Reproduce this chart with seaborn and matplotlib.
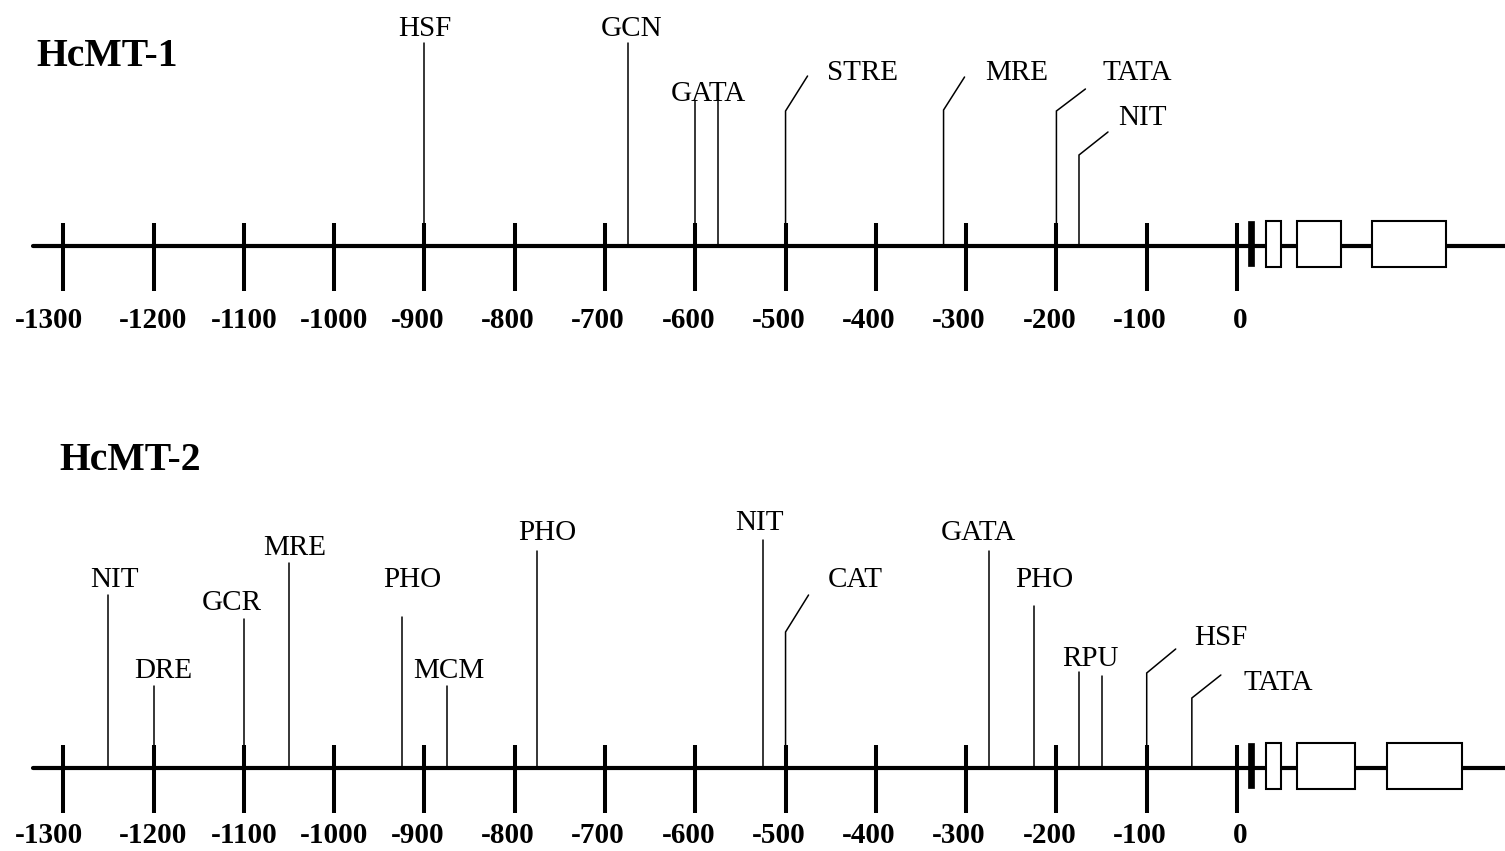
import matplotlib
matplotlib.use("Agg")
import matplotlib.pyplot as plt
import matplotlib.transforms as mtransforms
from matplotlib.patches import Rectangle
import pandas as pd
import seaborn as sns

# ---------------- data ----------------
tick_positions = [-1300, -1200, -1100, -1000, -900, -800, -700, -600,
                  -500, -400, -300, -200, -100, 0]
tick_labels = ["-1300", "-1200", "-1100", "-1000", "-900", "-800", "-700",
               "-600", "-500", "-400", "-300", "-200", "-100", "0"]

construct_names = ["HcMT-1", "HcMT-2"]

hcmt1_names = ["HSF", "GCN", "GATA", "GATA", "STRE", "MRE", "TATA", "NIT"]
hcmt1_pos = [-900, -675, -600, -575, -500, -325, -200, -175]
hcmt1_exon_start = [32, 66, 149]
hcmt1_exon_end = [49, 115, 232]

hcmt2_names = ["NIT", "DRE", "GCR", "MRE", "PHO", "MCM", "PHO", "NIT",
               "CAT", "GATA", "PHO", "RPU", "RPU", "HSF", "TATA"]
hcmt2_pos = [-1250, -1200, -1100, -1050, -925, -875, -775, -525,
             -500, -275, -225, -175, -150, -100, -50]
hcmt2_exon_start = [32, 66, 166]
hcmt2_exon_end = [49, 131, 249]

start_codon = [12, 19]   # filled black block after position 0

# ---------------- layout (pixels above the backbone) ----------------
# stem height, bend (dx px, end height) or None, label dx px, label centre height, show label
hcmt1_layout = [
    (203, None, 0, 220, True),
    (203, None, 4, 220, True),
    (145, None, 13, 155, True),
    (145, None, 0, 155, False),
    (135, (22, 170), 77, 176, True),
    (136, (21, 169), 73, 176, True),
    (135, (29, 157), 81, 176, True),
    (91, (29, 114), 63, 131, True),
]
hcmt2_layout = [
    (173, None, 6, 191, True),
    (82, None, 10, 100, True),
    (149, None, -12, 168, True),
    (205, None, 6, 223, True),
    (151, None, 10, 191, True),
    (82, None, 2, 100, True),
    (217, None, 10, 238, True),
    (228, None, -4, 248, True),
    (136, (23, 173), 70, 191, True),
    (217, None, -10, 238, True),
    (162, None, 10, 191, True),
    (96, None, 11, 112, True),
    (92, None, 0, 112, False),
    (95, (29, 119), 74, 133, True),
    (70, (29, 93), 86, 88, True),
]

W, H = 1505, 851
baselines = [246, 768]
title_left = [36, 59]
title_center = [52, 457]
px_per_bp = 0.9029
x_left = -1237 / px_per_bp
x_right = x_left + W / px_per_bp
bp_per_px = 1 / px_per_bp
backbone_start = -1333

sns.set_theme(style="white")
plt.rcParams["font.family"] = ["Liberation Serif", "DejaVu Serif"]

fig = plt.figure(figsize=(W / 100, H / 100), dpi=100)
ax = fig.add_axes([0, 0, 1, 1])

# backbone lines via seaborn
bb = pd.DataFrame({
    "x": [backbone_start, x_right + 10, backbone_start, x_right + 10],
    "y": [baselines[0], baselines[0], baselines[1], baselines[1]],
    "construct": [construct_names[0]] * 2 + [construct_names[1]] * 2,
})
sns.lineplot(data=bb, x="x", y="y", units="construct", estimator=None,
             color="black", lw=3.0, ax=ax, legend=False, zorder=2)
ax.set_xlim(x_left, x_right)
ax.set_ylim(H, 0)
ax.axis("off")

half_cap_feat = 9.8
feat_size = 21
tick_size = 21
title_size = 28.5

blend = mtransforms.blended_transform_factory(ax.transAxes, ax.transData)

constructs = [
    (hcmt1_names, hcmt1_pos, hcmt1_layout, hcmt1_exon_start, hcmt1_exon_end),
    (hcmt2_names, hcmt2_pos, hcmt2_layout, hcmt2_exon_start, hcmt2_exon_end),
]

for ci, (names, pos, layout, es, ee) in enumerate(constructs):
    base = baselines[ci]
    # title
    ax.text(title_left[ci] / W, title_center[ci] + 13.5, construct_names[ci],
            transform=blend, ha="left", va="baseline",
            fontsize=title_size, fontweight="bold", color="black")
    # scale ticks
    ax.vlines(tick_positions, base - 23, base + 45, color="black", lw=2.9, zorder=2)
    tick_base = min(base + 82, H - 8)
    for tp, tl in zip(tick_positions, tick_labels):
        off = 0
        if tl == "0":
            off = 3
        elif tl == "-1300":
            off = -14
        elif len(tl) == 4:
            off = -7
        ax.annotate(tl, xy=(tp, tick_base), xytext=(off, 0),
                    textcoords="offset pixels", ha="center", va="baseline",
                    fontsize=tick_size, fontweight="bold", color="black")
    # features
    for name, p, (stem, bend, ldx, lh, show) in zip(names, pos, layout):
        if bend is None:
            ax.plot([p, p], [base, base - stem], color="black", lw=1.1, zorder=1)
        else:
            bdx, bh = bend
            ax.plot([p, p, p + bdx * bp_per_px], [base, base - stem, base - bh],
                    color="black", lw=1.1, zorder=1, solid_joinstyle="miter")
        if show:
            ax.text(p + ldx * bp_per_px, base - lh + half_cap_feat, name,
                    ha="center", va="baseline", fontsize=feat_size, color="black")
    # gene structure
    ax.add_patch(Rectangle((start_codon[0], base - 25), start_codon[1] - start_codon[0], 45,
                           facecolor="black", edgecolor="black", lw=0.5, zorder=3))
    for s, e in zip(es, ee):
        ax.add_patch(Rectangle((s, base - 25), e - s, 46, facecolor="white",
                               edgecolor="black", lw=1.5, zorder=3))

fig.savefig("out.png", dpi=100, facecolor="white")
